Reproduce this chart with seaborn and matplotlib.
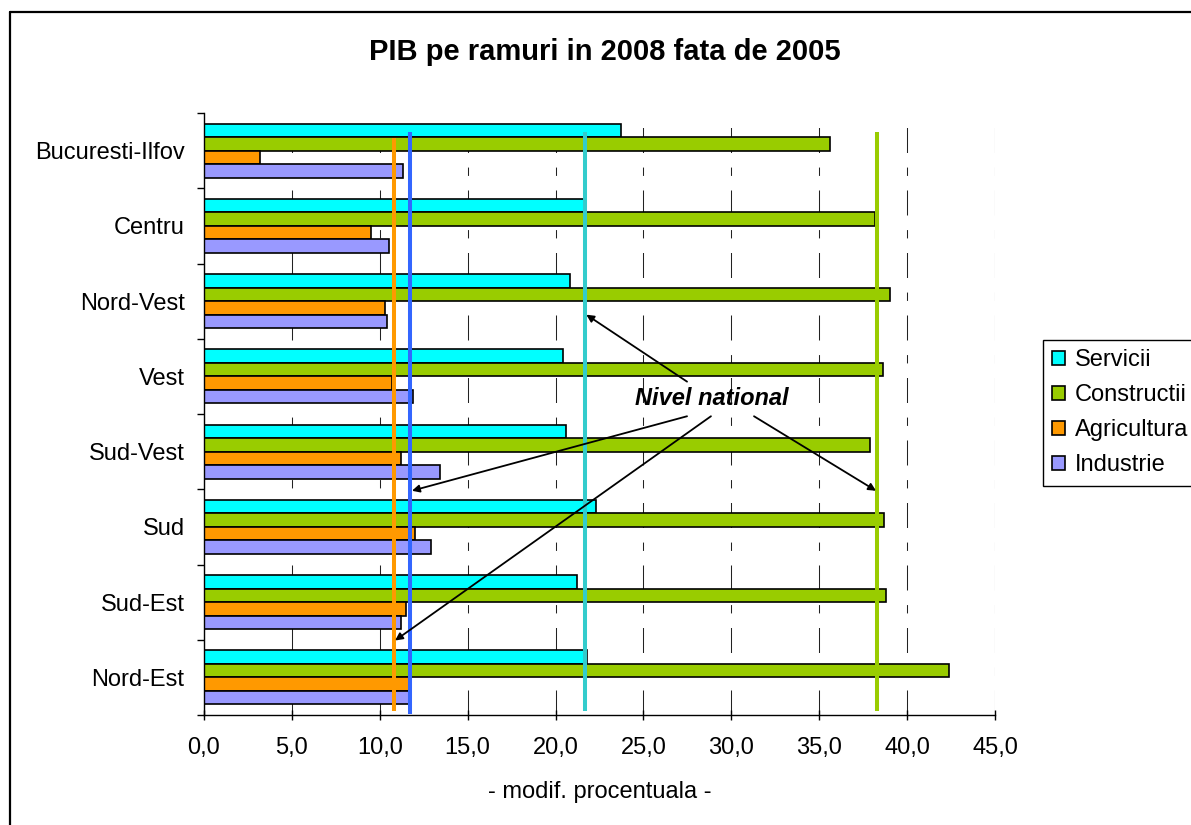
import matplotlib
matplotlib.use("Agg")
import matplotlib.pyplot as plt
import matplotlib.lines as mlines
from matplotlib.ticker import FixedLocator, FuncFormatter
import pandas as pd
import seaborn as sns

# --- data ---
regiuni = ["Bucuresti-Ilfov", "Centru", "Nord-Vest", "Vest",
           "Sud-Vest", "Sud", "Sud-Est", "Nord-Est"]
ramuri = ["Servicii", "Constructii", "Agricultura", "Industrie"]
servicii = [23.7, 21.6, 20.8, 20.4, 20.6, 22.3, 21.2, 21.8]
constructii = [35.6, 38.2, 39.0, 38.6, 37.9, 38.7, 38.8, 42.4]
agricultura = [3.2, 9.5, 10.3, 10.7, 11.2, 12.0, 11.5, 11.7]
industrie = [11.3, 10.5, 10.4, 11.9, 13.4, 12.9, 11.2, 11.8]
# national level per branch (the vertical lines)
nivel_national = [21.7, 38.3, 10.8, 11.7]

culori_bare = ["#00FFFF", "#99CC00", "#FF9900", "#9999FF"]
culori_linii = ["#33CCCC", "#99CC00", "#FF9900", "#3366FF"]

df = pd.DataFrame({
    "Regiune": regiuni * 4,
    "Ramura": [r for r in ramuri for _ in regiuni],
    "Valoare": servicii + constructii + agricultura + industrie,
})

sns.set_theme(style="white")
plt.rcParams["font.family"] = ["Liberation Sans", "DejaVu Sans"]
for key in ["text.color", "axes.labelcolor", "xtick.color", "ytick.color"]:
    plt.rcParams[key] = "black"

fig = plt.figure(figsize=(11.91, 8.25), dpi=100)
ax = fig.add_axes([204 / 1191, 1 - 715 / 825, 791 / 1191, 602 / 825])

sns.barplot(data=df, y="Regiune", x="Valoare", hue="Ramura", orient="h",
            order=regiuni, hue_order=ramuri, palette=culori_bare,
            width=0.72, gap=0, errorbar=None, edgecolor="black",
            linewidth=1.2, saturation=1, ax=ax, zorder=2)

# national level lines
extinderi = [(-0.25, 7.45), (-0.25, 7.45), (-0.17, 7.45), (-0.25, 7.49)]
for val, col, (y0, y1) in zip(nivel_national, culori_linii, extinderi):
    ax.vlines(val, y0, y1, colors=col, linewidth=2.9, zorder=4)

ax.set_xlim(0, 45)
ax.set_ylim(7.5, -0.5)
ax.xaxis.set_major_locator(FixedLocator([i * 5 for i in range(10)]))
ax.xaxis.set_major_formatter(FuncFormatter(lambda v, p: f"{v:.1f}".replace(".", ",")))
ax.grid(axis="x", color="#222222", linewidth=0.75,
        linestyle=(0, (24, 14, 8, 14)))
ax.grid(axis="y", visible=False)
ax.set_axisbelow(True)

for side in ["top", "right"]:
    ax.spines[side].set_visible(False)
for side in ["left", "bottom"]:
    ax.spines[side].set_color("black")
    ax.spines[side].set_linewidth(1.0)

ax.tick_params(axis="x", direction="inout", length=7, width=1, color="black",
               labelsize=17, pad=12, bottom=True)
ax.yaxis.set_minor_locator(FixedLocator([i - 0.5 for i in range(9)]))
ax.tick_params(axis="y", which="major", length=0, labelsize=17, pad=14)
ax.tick_params(axis="y", which="minor", direction="out", length=5, width=1,
               color="black", left=True)
ax.set_ylabel("")
ax.set_xlabel("- modif. procentuala -", fontsize=17, labelpad=16)

# annotation with arrows towards the national lines
ax.text(28.9, 3.30, "Nivel national", fontsize=17, fontweight="bold",
        fontstyle="italic", ha="center", va="center", zorder=6)
sageti = [((27.48, 3.07), (21.75, 2.18)),
          ((27.48, 3.53), (11.83, 4.52)),
          ((31.29, 3.53), (38.23, 4.52)),
          ((28.84, 3.53), (10.87, 6.51))]
for start, end in sageti:
    ax.annotate("", xy=end, xytext=start,
                arrowprops=dict(arrowstyle="-|>", color="black", lw=1.3,
                                mutation_scale=11, shrinkA=0, shrinkB=0),
                zorder=5)

# legend
handles, labels = ax.get_legend_handles_labels()
ax.get_legend().remove()
leg = fig.legend(handles, labels, loc="upper left",
                 bbox_to_anchor=(1043 / 1191, 1 - 340 / 825),
                 fontsize=17, frameon=True, fancybox=False, framealpha=1,
                 edgecolor="black", handlelength=0.55, handleheight=0.55,
                 handletextpad=0.4, labelspacing=0.55, borderpad=0.4,
                 borderaxespad=0)
leg.get_frame().set_linewidth(1.0)

fig.text(605 / 1191, 1 - 52 / 825, "PIB pe ramuri in 2008 fata de 2005",
         fontsize=21, fontweight="bold", ha="center", va="center")

# outer chart frame (left and top edges are visible)
fig.add_artist(mlines.Line2D([9.5 / 1191, 9.5 / 1191], [0, 1 - 11.5 / 825],
                             color="black", linewidth=1.6))
fig.add_artist(mlines.Line2D([9.5 / 1191, 1], [1 - 11.5 / 825, 1 - 11.5 / 825],
                             color="black", linewidth=1.6))

fig.savefig("out.png", dpi=100)
